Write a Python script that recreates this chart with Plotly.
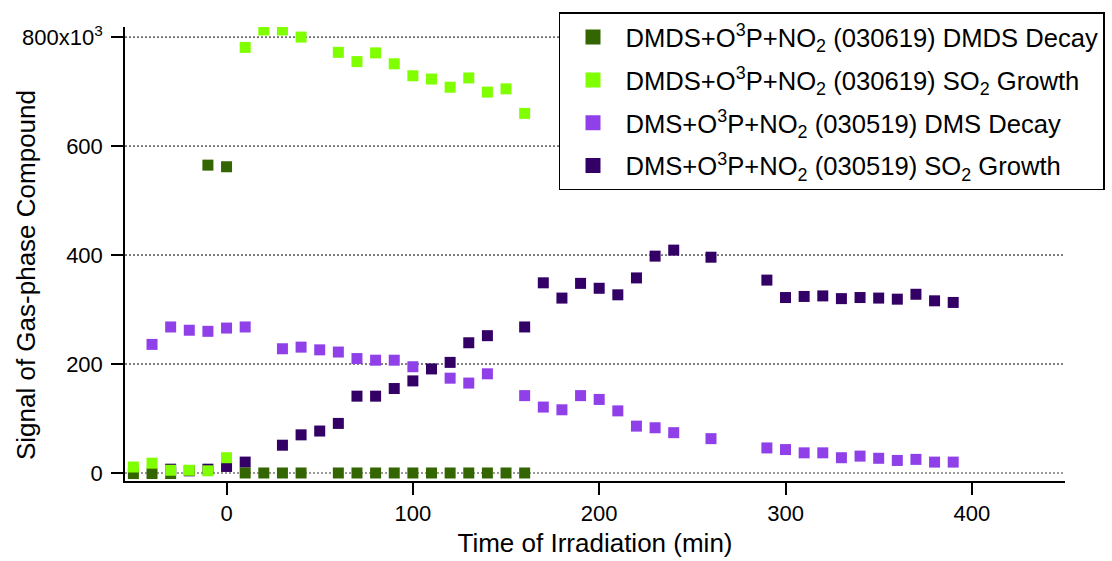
import plotly.graph_objects as go

# ---- data (signal in units of 10^3) ----
dmds_decay_t = [-50, -40, -30, -10, 0, 10, 20, 30, 40, 60, 70, 80, 90, 100, 110, 120, 130, 140, 150, 160]
dmds_decay_v = [-1, -1, -1, 565, 562, 0, 0, 0, 0, 0, 0, 0, 0, 0, 0, 0, 0, 0, 0, 0]

dmds_so2_t = [-50, -40, -30, -20, -10, 0, 10, 20, 30, 40, 60, 70, 80, 90, 100, 110, 120, 130, 140, 150, 160]
dmds_so2_v = [11, 18, 5, 5, 4, 28, 781, 813, 813, 800, 772, 755, 771, 751, 729, 723, 708, 725, 699, 705, 660]

dms_decay_t = [-40, -30, -20, -10, 0, 10, 30, 40, 50, 60, 70, 80, 90, 100, 120, 130, 140, 160, 170, 180,
               190, 200, 210, 220, 230, 240, 260, 290, 300, 310, 320, 330, 340, 350, 360, 370, 380, 390]
dms_decay_v = [236, 268, 262, 260, 266, 268, 228, 231, 226, 222, 210, 207, 207, 195, 174, 165, 182, 142, 121, 116,
               142, 135, 114, 86, 83, 74, 63, 46, 43, 37, 37, 28, 31, 27, 23, 25, 20, 20]

dms_so2_t = [-30, -20, -10, 0, 10, 30, 40, 50, 60, 70, 80, 90, 100, 110, 120, 130, 140, 160, 170, 180,
             190, 200, 210, 220, 230, 240, 260, 290, 300, 310, 320, 330, 340, 350, 360, 370, 380, 390]
dms_so2_v = [7, 4, 7, 12, 20, 51, 70, 77, 91, 141, 141, 155, 169, 191, 203, 239, 252, 268, 349, 321,
             348, 339, 327, 358, 398, 409, 396, 354, 322, 324, 325, 320, 322, 321, 319, 328, 316, 313]

names = [
    "DMDS+O<sup>3</sup>P+NO<sub>2</sub> (030619) DMDS Decay",
    "DMDS+O<sup>3</sup>P+NO<sub>2</sub> (030619) SO<sub>2</sub> Growth",
    "DMS+O<sup>3</sup>P+NO<sub>2</sub> (030519) DMS Decay",
    "DMS+O<sup>3</sup>P+NO<sub>2</sub> (030519) SO<sub>2</sub> Growth",
]
colors = ["#336600", "#80FF00", "#9040E8", "#330066"]

y_tickvals = [0, 200, 400, 600, 800]
y_ticktext = ["0", "200", "400", "600", "800x10<sup>3</sup>"]
x_tickvals = [0, 100, 200, 300, 400]

FONT = "Arial, 'Liberation Sans', sans-serif"

fig = go.Figure()

# draw order (bottom -> top)
series = [
    (dms_decay_t, dms_decay_v, 2),
    (dms_so2_t, dms_so2_v, 3),
    (dmds_decay_t, dmds_decay_v, 0),
    (dmds_so2_t, dmds_so2_v, 1),
]
for t, v, i in series:
    fig.add_trace(go.Scatter(
        x=t, y=v, mode="markers", showlegend=False, hoverinfo="x+y",
        marker=dict(symbol="square", size=11, color=colors[i], line=dict(width=0)),
    ))

# legend entries (legend order)
for i in range(4):
    fig.add_trace(go.Scatter(
        x=[None], y=[None], mode="markers", name=names[i], legendgroup=f"g{i}",
        marker=dict(symbol="square", size=15, color=colors[i], line=dict(width=0)),
    ))

# horizontal dotted grid lines at the labelled ticks (except 0)
for v in y_tickvals[1:]:
    fig.add_shape(type="line", xref="paper", x0=0, x1=1, yref="y", y0=v, y1=v,
                  line=dict(color="black", width=1, dash="2px,2px"), layer="below")
# gray dotted zero reference line
fig.add_shape(type="line", xref="paper", x0=0, x1=1, yref="y", y0=0, y1=0,
              line=dict(color="#7a7a7a", width=1.5, dash="2px,2px"), layer="below")

fig.update_layout(
    width=1112, height=561,
    margin=dict(l=125, r=47, t=27, b=80, autoexpand=False),
    paper_bgcolor="white", plot_bgcolor="white",
    font=dict(family=FONT, size=22, color="black"),
    legend=dict(
        x=0.4617, y=1.032, xanchor="left", yanchor="top",
        bgcolor="white", bordercolor="black", borderwidth=1.5,
        font=dict(family=FONT, size=25.6, color="black"),
        itemwidth=55, tracegroupgap=6.5,
    ),
    annotations=[dict(
        text="Signal of Gas-phase Compound", textangle=-90,
        xref="paper", yref="paper", x=-0.1053, y=0.4537,
        xanchor="center", yanchor="middle", showarrow=False,
        font=dict(family=FONT, size=26, color="black"),
    )],
)

fig.update_xaxes(
    range=[-54.5, 450], showline=True, linecolor="black", linewidth=1.5,
    ticks="outside", ticklen=12, tickwidth=1.5, tickcolor="black",
    tickvals=x_tickvals, showgrid=False, zeroline=False,
    tickfont=dict(family=FONT, size=22, color="black"),
    title=dict(text="Time of Irradiation (min)", font=dict(family=FONT, size=26), standoff=9),
)
fig.update_yaxes(
    range=[-14.7, 818.5], showline=True, linecolor="black", linewidth=1.5,
    ticks="outside", ticklen=12, tickwidth=1.5, tickcolor="black",
    tickvals=y_tickvals, ticktext=y_ticktext,
    tickfont=dict(family=FONT, size=22, color="black"),
    ticklabelstandoff=4,
    showgrid=False, zeroline=False,
)

fig.write_html("out.html")
